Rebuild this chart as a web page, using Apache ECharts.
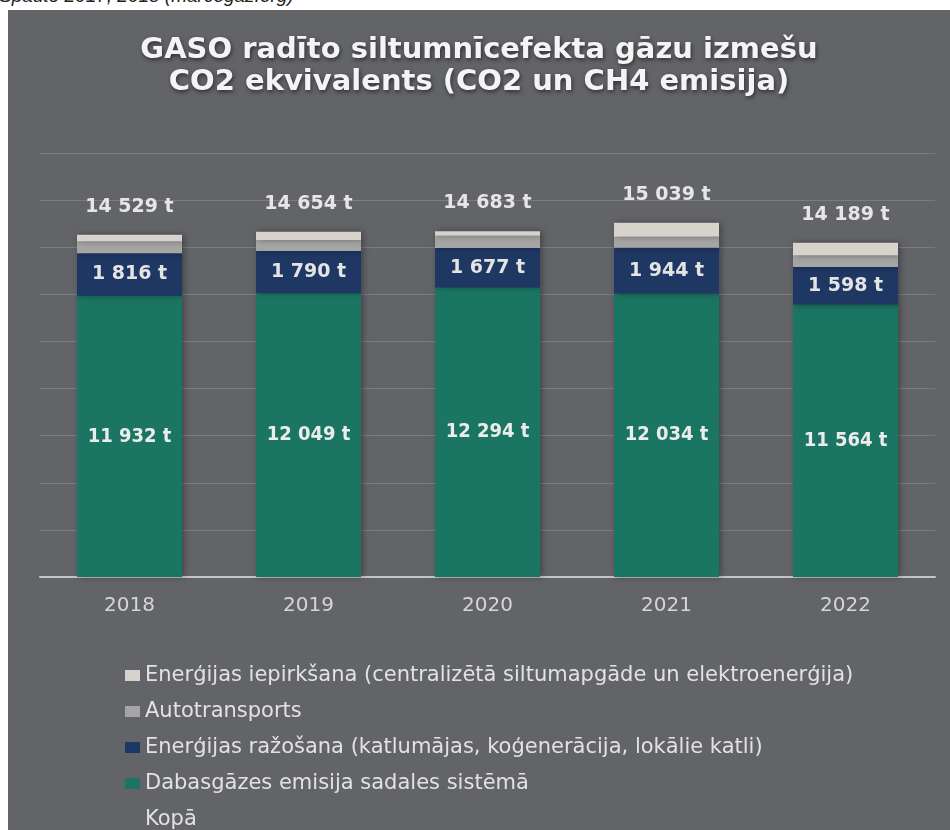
<!DOCTYPE html>
<html>
<head>
<meta charset="utf-8">
<script src="https://cdn.jsdelivr.net/npm/echarts@6/dist/echarts.min.js"></script>
<style>
  html, body { margin: 0; padding: 0; background: #ffffff; width: 950px; height: 830px; overflow: hidden; position: relative; }
  #src { position: absolute; left: -1px; top: -15px; font: italic 19px "Liberation Sans", sans-serif; color: #222; white-space: nowrap; }
  #chart { position: absolute; left: 8px; top: 10px; width: 942px; height: 820px; }
</style>
</head>
<body>
<div id="src">Spadte 2017, 2018 (marcogaz.org)</div>
<div id="chart"></div>
<script>
// gadi un emisijas (t CO2 ekv.)
const years = ['2018', '2019', '2020', '2021', '2022']
const gasDistribution = [11932, 12049, 12294, 12034, 11564]
const energyProduction = [1816, 1790, 1677, 1944, 1598]
const autotransport = [491, 472, 512, 471, 484]
const energyPurchase = [290, 343, 200, 590, 543]
const totals = [14529, 14654, 14683, 15039, 14189]

const names = [
  'Dabasgāzes emisija sadales sistēmā',
  'Enerģijas ražošana (katlumājas, koģenerācija, lokālie katli)',
  'Autotransports',
  'Enerģijas iepirkšana (centralizētā siltumapgāde un elektroenerģija)',
  'Kopā'
]

const fmt = (v) => String(v).replace(/\B(?=(\d{3})+(?!\d))/g, ' ') + ' t'

const shadow = {
  shadowBlur: 6,
  shadowColor: 'rgba(0,0,0,0.35)',
  shadowOffsetX: 2,
  shadowOffsetY: 0
}

const myChart = echarts.init(document.getElementById('chart'))
myChart.setOption({
  animation: false,
  backgroundColor: '#636468',
  title: {
    text: 'GASO radīto siltumnīcefekta gāzu izmešu\nCO2 ekvivalents (CO2 un CH4 emisija)',
    left: 'center',
    top: 19,
    textStyle: {
      fontFamily: 'DejaVu Sans',
      fontSize: 29,
      fontWeight: 'bold',
      lineHeight: 32,
      color: '#f4f4f4',
      textShadowColor: 'rgba(0,0,0,0.55)',
      textShadowBlur: 4,
      textShadowOffsetX: 1,
      textShadowOffsetY: 2
    }
  },
  legend: {
    orient: 'vertical',
    left: 112,
    top: 650,
    height: 200,
    icon: 'rect',
    itemWidth: 15,
    itemHeight: 11,
    itemGap: 15,
    textStyle: { fontFamily: 'DejaVu Sans', fontSize: 21, lineHeight: 20, color: '#e2e2e2' },
    data: [
      { name: names[3] },
      { name: names[2] },
      { name: names[1] },
      { name: names[0] },
      { name: names[4], itemStyle: { opacity: 0 } }
    ]
  },
  grid: { left: 32, right: 15, top: 143, bottom: 253 },
  xAxis: {
    type: 'category',
    data: years,
    axisLine: { lineStyle: { color: '#c4c4c4', width: 2 } },
    axisTick: { show: false },
    axisLabel: { fontFamily: 'DejaVu Sans', fontSize: 20, color: '#d6d6d6', margin: 19 }
  },
  yAxis: {
    type: 'value',
    min: 0,
    max: 18000,
    interval: 2000,
    axisLabel: { show: false },
    axisLine: { show: false },
    axisTick: { show: false },
    splitLine: { lineStyle: { color: '#7b7c80', width: 1 } }
  },
  series: [
    {
      name: names[0],
      type: 'bar',
      stack: 'kopa',
      barWidth: 105,
      data: gasDistribution,
      itemStyle: { color: '#1b7563', ...shadow },
      label: {
        show: true,
        position: 'inside',
        formatter: (p) => fmt(p.value),
        fontFamily: 'DejaVu Sans Condensed, DejaVu Sans',
        fontWeight: 'bold',
        fontSize: 20,
        color: '#ececec'
      }
    },
    {
      name: names[1],
      type: 'bar',
      stack: 'kopa',
      data: energyProduction,
      itemStyle: { color: '#1f3763', ...shadow },
      label: {
        show: true,
        position: 'inside',
        formatter: (p) => fmt(p.value),
        fontFamily: 'DejaVu Sans',
        fontWeight: 'bold',
        fontSize: 19,
        color: '#e4e4e4'
      }
    },
    {
      name: names[2],
      type: 'bar',
      stack: 'kopa',
      data: autotransport,
      itemStyle: { color: '#a5a5a5', ...shadow }
    },
    {
      name: names[3],
      type: 'bar',
      stack: 'kopa',
      data: energyPurchase,
      itemStyle: { color: '#d8d2cc', ...shadow }
    },
    {
      name: names[4],
      type: 'line',
      data: totals,
      symbol: 'circle',
      symbolSize: 1,
      showSymbol: true,
      lineStyle: { opacity: 0, width: 0 },
      itemStyle: { color: 'rgba(0,0,0,0)' },
      label: {
        show: true,
        position: 'top',
        distance: 18,
        formatter: (p) => fmt(p.value),
        fontFamily: 'DejaVu Sans',
        fontWeight: 'bold',
        fontSize: 19,
        color: '#e6e6e6'
      }
    }
  ]
})
</script>
</body>
</html>
